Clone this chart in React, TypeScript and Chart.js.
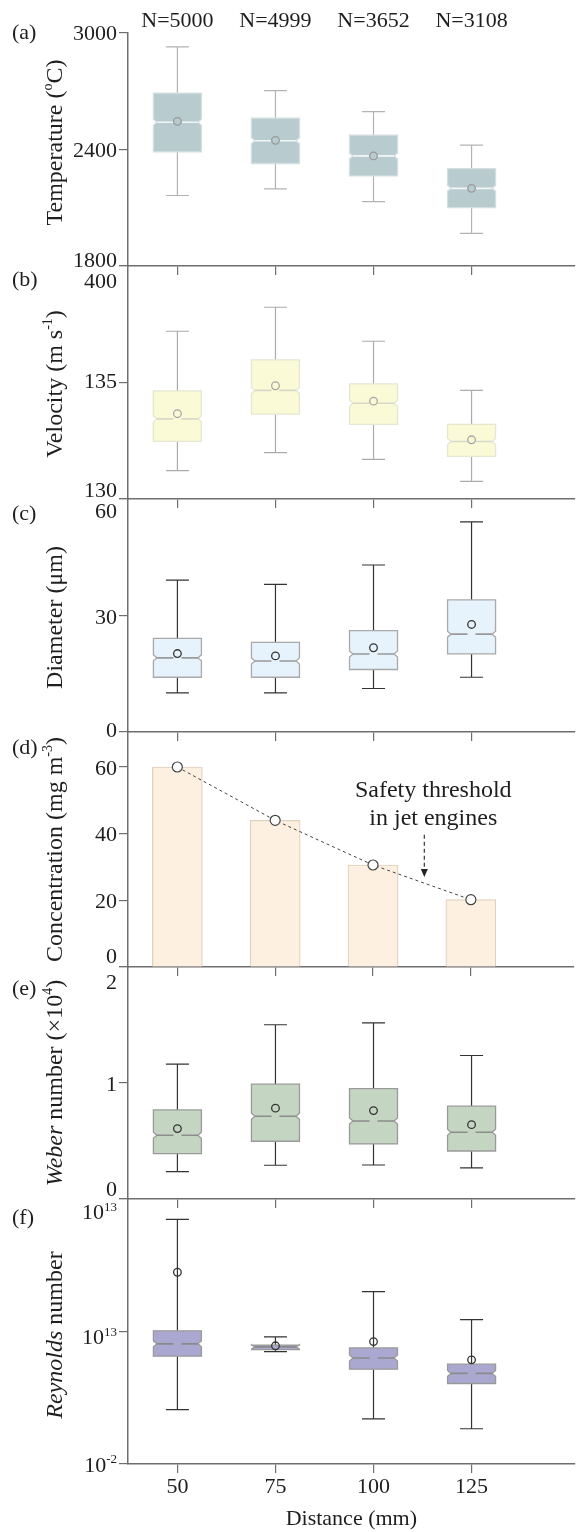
import React, { useEffect, useRef } from "react";
import { Chart, registerables } from "chart.js";

Chart.register(...registerables);

const FONT = '"Liberation Serif", "Times New Roman", serif';
Chart.defaults.font.family = FONT;

// ---------------- data ----------------
const distances = [50, 75, 100, 125];
const sampleSizes = ["N=5000", "N=4999", "N=3652", "N=3108"];

// each box: [lower whisker, Q1, median, Q3, upper whisker]
const temperatureBoxes = [
  [2163, 2388, 2540, 2690, 2929],
  [2197, 2328, 2445, 2561, 2703],
  [2132, 2264, 2367, 2474, 2595],
  [1968, 2101, 2200, 2302, 2423],
];
const temperatureMeans = [2545, 2447, 2367, 2200];
const temperatureTicks = [1800, 2400, 3000];
const temperatureTickLabels = ["1800", "2400", "3000"];

const velocityBoxes = [
  [131.22, 132.47, 133.44, 134.64, 137.2],
  [131.99, 133.64, 134.66, 135.97, 138.23],
  [131.7, 133.2, 134.11, 134.94, 136.77],
  [130.76, 131.83, 132.47, 133.2, 134.66],
];
const velocityMeans = [133.66, 134.86, 134.2, 132.54];
const velocityTicks = [130, 135, 140];
const velocityTickLabels = ["130", "135", "400"];

const diameterBoxes = [
  [10.1, 14.1, 19.1, 24.1, 39.1],
  [10.1, 14.1, 18.3, 23.1, 38.0],
  [11.2, 16.1, 20.1, 26.1, 43.0],
  [14.1, 20.1, 25.2, 34.0, 54.1],
];
const diameterMeans = [20.2, 19.6, 21.7, 27.7];
const diameterTicks = [0, 30, 60];
const diameterTickLabels = ["0", "30", "60"];

const concentration = [60, 44, 30.6, 20.2];
const concentrationTicks = [0, 20, 40, 60];
const concentrationTickLabels = ["0", "20", "40", "60"];

const weberBoxes = [
  [0.236, 0.391, 0.55, 0.768, 1.163],
  [0.291, 0.498, 0.714, 0.99, 1.502],
  [0.293, 0.475, 0.673, 0.952, 1.519],
  [0.268, 0.414, 0.576, 0.8, 1.237],
];
const weberMeans = [0.607, 0.783, 0.762, 0.641];
const weberTicks = [0, 1, 2];
const weberTickLabels = ["0", "1", "2"];

const reynoldsBoxes = [
  [1.4e4, 1.6e10, 4.0e11, 1.2e13, 5.0e25],
  [5.4e10, 9.1e10, 1.8e11, 2.9e11, 2.5e12],
  [1.3e3, 5.5e8, 1.0e10, 1.4e11, 3.3e17],
  [98, 1.3e7, 1.8e8, 2.0e9, 2.2e14],
];
const reynoldsMeans = [5.1e19, 2.4e11, 7.2e11, 6.2e9];
const reynoldsTicks = [1e-2, 1e13, 1e28];
const reynoldsTickLabels = ["10^-2", "10^13", "10^13"];

const noteLines = ["Safety threshold", "in jet engines"];

// ---------------- helpers ----------------
type Seg = { t: string; sup?: boolean; it?: boolean };

function fontOf(size: number, s: Seg) {
  return `${s.it ? "italic " : ""}${s.sup ? Math.round(size * 0.6) : size}px ${FONT}`;
}

function drawRich(
  ctx: CanvasRenderingContext2D,
  segs: Seg[],
  x: number,
  y: number,
  size: number,
  align: "left" | "center" | "right"
) {
  ctx.save();
  ctx.textAlign = "left";
  ctx.textBaseline = "alphabetic";
  const ws = segs.map((s) => {
    ctx.font = fontOf(size, s);
    return ctx.measureText(s.t).width;
  });
  const total = ws.reduce((a, b) => a + b, 0);
  let cx = align === "left" ? x : align === "center" ? x - total / 2 : x - total;
  segs.forEach((s, i) => {
    ctx.font = fontOf(size, s);
    ctx.fillText(s.t, cx, s.sup ? y - size * 0.38 : y);
    cx += ws[i];
  });
  ctx.restore();
}

function labelSegs(label: string): Seg[] {
  const k = label.indexOf("^");
  if (k < 0) return [{ t: label }];
  return [{ t: label.slice(0, k) }, { t: label.slice(k + 1), sup: true }];
}

// ---------------- panel layout / styles ----------------
const PAD_TOP = 30;
const X_MIN = 37.4;
const X_MAX = 151.3;
const AXIS_COLOR = "#6e6e6e";
const TEXT_COLOR = "#1e1e1e";

interface BoxStyle {
  fill: string;
  border: string;
  median: string;
  whisker: string;
  mean: string;
}

interface PanelCfg {
  id: string;
  tag: string;
  top: number;
  bottom: number;
  axisH: number;
  yType: "linear" | "logarithmic";
  yMin: number;
  yMax: number;
  ticks: number[];
  tickLabels: string[];
  tickShift: number[];
  title: Seg[];
  titleDy: number;
  tagDy: number;
  kind: "box" | "bar";
  boxes?: number[][];
  means?: number[];
  style?: BoxStyle;
}

const panels: PanelCfg[] = [
  {
    id: "a", tag: "(a)", top: 33, bottom: 266, axisH: 20,
    yType: "linear", yMin: 1800, yMax: 3000,
    ticks: temperatureTicks, tickLabels: temperatureTickLabels, tickShift: [-7, 0, -1],
    title: [{ t: "Temperature (" }, { t: "o", sup: true }, { t: "C)" }], titleDy: -7, tagDy: 0,
    kind: "box", boxes: temperatureBoxes, means: temperatureMeans,
    style: { fill: "#b8cccf", border: "#d3dee0", median: "#f1f5f5", whisker: "#b3b3b3", mean: "#999999" },
  },
  {
    id: "b", tag: "(b)", top: 266, bottom: 499, axisH: 20,
    yType: "linear", yMin: 130, yMax: 140,
    ticks: velocityTicks, tickLabels: velocityTickLabels, tickShift: [-9.5, -2, 14],
    title: [{ t: "Velocity (m s" }, { t: "-1", sup: true }, { t: ")" }], titleDy: 1.5, tagDy: 14,
    kind: "box", boxes: velocityBoxes, means: velocityMeans,
    style: { fill: "#fafad7", border: "#e6e6d2", median: "#d8d8c8", whisker: "#ababab", mean: "#a6a6a6" },
  },
  {
    id: "c", tag: "(c)", top: 499, bottom: 732, axisH: 20,
    yType: "linear", yMin: 0, yMax: 60,
    ticks: diameterTicks, tickLabels: diameterTickLabels, tickShift: [-2.5, 0.5, 11.5],
    title: [{ t: "Diameter (μm)" }], titleDy: 2, tagDy: 15,
    kind: "box", boxes: diameterBoxes, means: diameterMeans,
    style: { fill: "#e6f3fc", border: "#a9a9a9", median: "#9a9a9a", whisker: "#333333", mean: "#333333" },
  },
  {
    id: "d", tag: "(d)", top: 732, bottom: 967, axisH: 20,
    yType: "linear", yMin: 0, yMax: 70.5,
    ticks: concentrationTicks, tickLabels: concentrationTickLabels, tickShift: [-11.5, 0, 0, 0],
    title: [{ t: "Concentration (mg m" }, { t: "-3", sup: true }, { t: ")" }], titleDy: 0, tagDy: 16,
    kind: "bar",
  },
  {
    id: "e", tag: "(e)", top: 967, bottom: 1199, axisH: 20,
    yType: "linear", yMin: 0, yMax: 2,
    ticks: weberTicks, tickLabels: weberTickLabels, tickShift: [-10.5, 0, 14],
    title: [{ t: "Weber", it: true }, { t: " number (×10" }, { t: "4", sup: true }, { t: ")" }], titleDy: 0, tagDy: 22,
    kind: "box", boxes: weberBoxes, means: weberMeans,
    style: { fill: "#c4d6c2", border: "#9a9a9a", median: "#8c8c8c", whisker: "#333333", mean: "#333333" },
  },
  {
    id: "f", tag: "(f)", top: 1199, bottom: 1464, axisH: 68,
    yType: "logarithmic", yMin: 1e-2, yMax: 1e28,
    ticks: reynoldsTicks, tickLabels: reynoldsTickLabels, tickShift: [0, 5, 12.5],
    title: [{ t: "Reynolds", it: true }, { t: " number" }], titleDy: 3.5, tagDy: 19,
    kind: "box", boxes: reynoldsBoxes, means: reynoldsMeans,
    style: { fill: "#aaa8d0", border: "#9a9a9a", median: "#8a8a8a", whisker: "#333333", mean: "#333333" },
  },
];

function drawBoxes(chart: any, p: PanelCfg) {
  const { ctx, scales } = chart;
  const x = scales.x;
  const y = scales.y;
  const st = p.style!;
  const hw = 24;
  const cap = 11.5;
  (p.boxes || []).forEach((b, i) => {
    const cx = x.getPixelForValue(distances[i]);
    const [lo, q1, med, q3, hi] = b.map((v) => y.getPixelForValue(v));
    ctx.save();
    // whiskers
    ctx.strokeStyle = st.whisker;
    ctx.lineWidth = 1.2;
    ctx.beginPath();
    ctx.moveTo(cx, hi);
    ctx.lineTo(cx, q3);
    ctx.moveTo(cx, q1);
    ctx.lineTo(cx, lo);
    ctx.moveTo(cx - cap, hi);
    ctx.lineTo(cx + cap, hi);
    ctx.moveTo(cx - cap, lo);
    ctx.lineTo(cx + cap, lo);
    ctx.stroke();
    // notched box
    const l = cx - hw;
    const r = cx + hw;
    const nh = Math.min(3, Math.abs(q1 - q3) / 2);
    const nd = 3.5;
    ctx.beginPath();
    ctx.moveTo(l, q3);
    ctx.lineTo(r, q3);
    ctx.lineTo(r, med - nh);
    ctx.lineTo(r - nd, med);
    ctx.lineTo(r, med + nh);
    ctx.lineTo(r, q1);
    ctx.lineTo(l, q1);
    ctx.lineTo(l, med + nh);
    ctx.lineTo(l + nd, med);
    ctx.lineTo(l, med - nh);
    ctx.closePath();
    ctx.fillStyle = st.fill;
    ctx.fill();
    ctx.strokeStyle = st.border;
    ctx.lineWidth = 1.3;
    ctx.stroke();
    // median (with a small gap at the centre)
    ctx.strokeStyle = st.median;
    ctx.lineWidth = 1.6;
    ctx.beginPath();
    ctx.moveTo(l + nd, med);
    ctx.lineTo(cx - 4, med);
    ctx.moveTo(cx + 4, med);
    ctx.lineTo(r - nd, med);
    ctx.stroke();
    ctx.restore();
  });
}

function drawDecor(chart: any, p: PanelCfg) {
  const { ctx, chartArea, scales } = chart;
  const y = scales.y;
  const x = scales.x;
  ctx.save();
  ctx.fillStyle = TEXT_COLOR;
  // y tick labels
  p.ticks.forEach((v, i) => {
    const py = y.getPixelForValue(v) + p.tickShift[i] + 7.5;
    drawRich(ctx, labelSegs(p.tickLabels[i]), 117, py, 22, "right");
  });
  // y title (rotated)
  const cy = (chartArea.top + chartArea.bottom) / 2 + p.titleDy;
  ctx.save();
  ctx.translate(61.5, cy);
  ctx.rotate(-Math.PI / 2);
  drawRich(ctx, p.title, 0, 0, 24, "center");
  ctx.restore();
  // panel tag
  ctx.font = `22px ${FONT}`;
  ctx.textAlign = "left";
  ctx.textBaseline = "middle";
  ctx.fillText(p.tag, 12, chartArea.top + p.tagDy);
  // sample sizes above the first panel
  if (p.id === "a") {
    ctx.textAlign = "center";
    sampleSizes.forEach((s, i) => {
      ctx.fillText(s, x.getPixelForValue(distances[i]), chartArea.top - 12);
    });
  }
  // annotation in the concentration panel
  if (p.id === "d") {
    ctx.font = `24px ${FONT}`;
    ctx.textAlign = "center";
    ctx.textBaseline = "alphabetic";
    const tx = x.getPixelForValue(115.4);
    ctx.fillText(noteLines[0], tx, y.getPixelForValue(51.0));
    ctx.fillText(noteLines[1], tx, y.getPixelForValue(42.7));
    const ax = x.getPixelForValue(113.1);
    const y0 = y.getPixelForValue(39.7);
    const y1 = y.getPixelForValue(27.0);
    ctx.strokeStyle = "#222";
    ctx.lineWidth = 1.1;
    ctx.setLineDash([4, 3]);
    ctx.beginPath();
    ctx.moveTo(ax, y0);
    ctx.lineTo(ax, y1 - 6);
    ctx.stroke();
    ctx.setLineDash([]);
    ctx.fillStyle = "#222";
    ctx.beginPath();
    ctx.moveTo(ax - 3.5, y1 - 8);
    ctx.lineTo(ax + 3.5, y1 - 8);
    ctx.lineTo(ax, y1);
    ctx.closePath();
    ctx.fill();
  }
  ctx.restore();
}

function PanelChart({ p, isLast }: { p: PanelCfg; isLast: boolean }) {
  const ref = useRef<HTMLCanvasElement | null>(null);
  const h = PAD_TOP + (p.bottom - p.top) + p.axisH;

  useEffect(() => {
    if (!ref.current) return;
    const datasets: any[] =
      p.kind === "box"
        ? [
            {
              type: "scatter",
              data: (p.means || []).map((m, i) => ({ x: distances[i], y: m })),
              pointRadius: 3.8,
              pointBorderWidth: 1.3,
              pointBorderColor: p.style!.mean,
              pointBackgroundColor: "rgba(0,0,0,0)",
              showLine: false,
            },
          ]
        : [
            {
              type: "line",
              order: 0,
              data: concentration.map((c, i) => ({ x: distances[i], y: c })),
              borderColor: "#444444",
              borderWidth: 1,
              borderDash: [3, 3],
              tension: 0,
              pointRadius: 5,
              pointBorderWidth: 1.2,
              pointBorderColor: "#444444",
              pointBackgroundColor: "#ffffff",
            },
            {
              type: "bar",
              order: 1,
              data: concentration.map((c, i) => ({ x: distances[i], y: c })),
              backgroundColor: "#fdf0e0",
              borderColor: "#e0cfbd",
              borderWidth: 1.2,
              barThickness: 50,
            },
          ];

    const gridOpts = {
      display: true,
      drawOnChartArea: false,
      drawTicks: true,
      tickLength: 9,
      color: AXIS_COLOR,
      lineWidth: 1.2,
      offset: false,
    };
    const borderOpts = { display: true, color: AXIS_COLOR, width: 1.5 };

    const chart = new Chart(ref.current, {
      type: p.kind === "box" ? "scatter" : "bar",
      data: { datasets },
      options: {
        responsive: false,
        animation: false,
        devicePixelRatio: 1,
        events: [],
        layout: { padding: { top: PAD_TOP, left: 0, right: 0, bottom: 0 } },
        plugins: { legend: { display: false }, tooltip: { enabled: false } },
        scales: {
          x: {
            type: "linear",
            min: X_MIN,
            max: X_MAX,
            offset: false,
            afterBuildTicks: (s: any) => {
              s.ticks = distances.map((v) => ({ value: v }));
            },
            afterFit: (s: any) => {
              s.height = p.axisH;
            },
            grid: gridOpts,
            border: borderOpts,
            ticks: {
              display: isLast,
              autoSkip: false,
              maxRotation: 0,
              padding: 1,
              color: TEXT_COLOR,
              font: { size: 22, family: FONT },
              callback: (v: any) => String(v),
            },
            title: {
              display: isLast,
              text: "Distance (mm)",
              color: TEXT_COLOR,
              font: { size: 22, family: FONT },
              padding: 0,
            },
          },
          y: {
            type: p.yType,
            min: p.yMin,
            max: p.yMax,
            afterBuildTicks: (s: any) => {
              s.ticks = p.ticks.map((v) => ({ value: v }));
            },
            afterFit: (s: any) => {
              s.width = 128;
            },
            grid: gridOpts,
            border: borderOpts,
            ticks: { display: false },
          },
        },
      } as any,
      plugins: [
        {
          id: "panelDecor" + p.id,
          beforeDatasetsDraw(c: any) {
            if (p.kind === "box") drawBoxes(c, p);
          },
          afterDraw(c: any) {
            drawDecor(c, p);
          },
        },
      ],
    });
    return () => chart.destroy();
  }, [p, isLast]);

  return (
    <canvas
      ref={ref}
      width={580}
      height={h}
      style={{ position: "absolute", left: 0, top: p.top - PAD_TOP, width: 580, height: h, display: "block" }}
    />
  );
}

export default function App() {
  return (
    <div
      style={{
        position: "absolute",
        left: 0,
        top: 0,
        width: 580,
        height: 1532,
        background: "#ffffff",
        overflow: "hidden",
      }}
    >
      {panels.map((p, i) => (
        <PanelChart key={p.id} p={p} isLast={i === panels.length - 1} />
      ))}
    </div>
  );
}
